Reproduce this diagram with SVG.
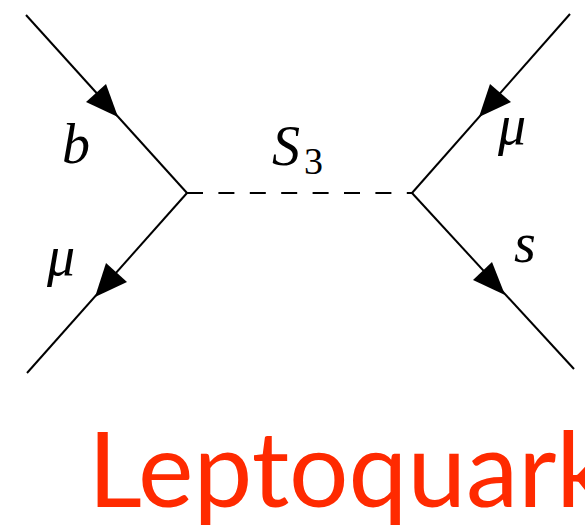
<svg xmlns="http://www.w3.org/2000/svg" width="585" height="529" viewBox="0 0 585 529">
<style>
.line{stroke:#000;stroke-width:2;fill:none}
.dash{stroke-dasharray:16 15.4}
.head{fill:#000}
.math{font-family:"Liberation Serif",serif;font-style:italic;fill:#000}
.title{font-family:Lato,"Liberation Sans",sans-serif;fill:#ff2a00}
</style>
<rect width="585" height="529" fill="#fff"/>
<g id="connectors">
<line class="line" x1="26" y1="15" x2="187" y2="193"/>
<line class="line" x1="187" y1="193" x2="27" y2="373"/>
<line class="line" x1="570" y1="14" x2="412" y2="193"/>
<line class="line" x1="412" y1="193" x2="574" y2="369"/>
<line class="line dash" x1="187" y1="193" x2="412" y2="193"/>
<polygon class="head" points="118,117 106,84 86,102"/>
<polygon class="head" points="95,297 106,263 127,282"/>
<polygon class="head" points="479,117 490,84 511,102"/>
<polygon class="head" points="505,295 492,262 473,280"/>
</g>
<g id="label-b"><text class="math" x="62" y="163" font-size="56">b</text></g>
<g id="label-mu-left"><text class="math" x="47" y="275" font-size="56">μ</text></g>
<g id="label-s3"><text class="math" x="272" y="165" font-size="56">S</text><text x="304" y="174" font-size="38" font-family="Liberation Serif,serif">3</text></g>
<g id="label-mu-right"><text class="math" x="498" y="144" font-size="56">μ</text></g>
<g id="label-s"><text class="math" x="514" y="262" font-size="56">s</text></g>
<g id="title"><text class="title" x="88" y="507" font-size="105">Leptoquark</text></g>
</svg>
